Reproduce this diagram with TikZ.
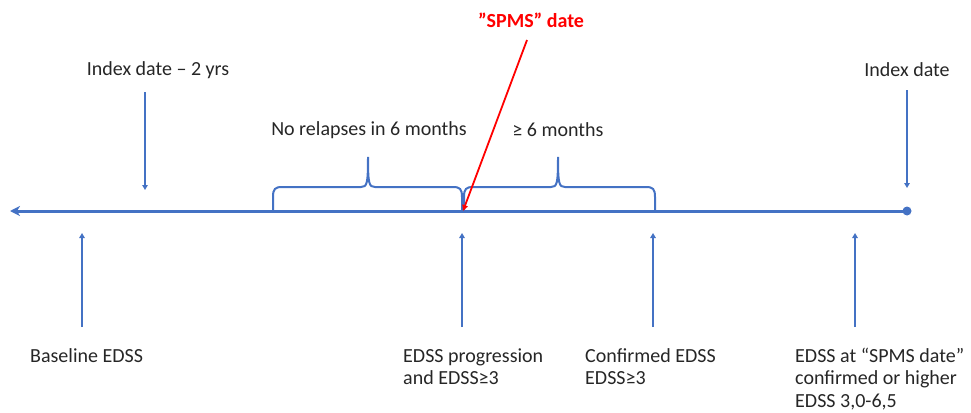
\documentclass[tikz,border=0pt]{standalone}
\usepackage{fontspec}
\setmainfont{Carlito}
\usetikzlibrary{arrows.meta}

\definecolor{lineblue}{HTML}{4472C4}
\definecolor{textgray}{HTML}{262626}

\tikzset{
  timeline/.style={lineblue, line width=3pt},
  marker/.style={lineblue, line width=1.6pt, -{Triangle[length=5pt,width=5.5pt]}},
  note/.style={text=textgray, font=\fontsize{20}{22.5}\selectfont, inner sep=0pt, align=left},
  spms/.style={red, line width=1.8pt, -{Triangle[length=6pt,width=5.5pt]}},
  bracepath/.style={lineblue, line width=2pt},
}

% curly brace on the time line: left x, tip x, right x
\newcommand\timebrace[3]{%
  \draw[bracepath] (#1,211) -- (#1,197) .. controls (#1,189) and (#1+2,187) .. (#1+9,187)
    -- (#2-7,187) .. controls (#2-1,187) and (#2,184) .. (#2,157)
    .. controls (#2,184) and (#2+1,187) .. (#2+7,187)
    -- (#3-9,187) .. controls (#3-2,187) and (#3,189) .. (#3,197) -- (#3,211);
}

\begin{document}
\begin{tikzpicture}[x=1pt, y=-1pt]
  \useasboundingbox (0,0) rectangle (971,412);

  % time line
  \coordinate (west) at (10,211);
  \coordinate (east) at (907,211);
  \coordinate (spmsdate) at (463,211);
  \draw[timeline, {Stealth[length=10pt,width=10pt,inset=3pt]}-] (west) -- (east);
  \fill[lineblue] (east) circle (4.5);

  % braces
  \timebrace{273}{368}{462}
  \timebrace{464}{558}{655}
  \node[note] (norelapse) at (369,130) {No relapses in 6 months};
  \node[note] (sixmonths) at (558,130) {≥ 6 months};

  % dates above the line
  \node[note] (twoyrs) at (158,70) {Index date -- 2 yrs};
  \node[note] (index) at (907,70) {Index date};
  \coordinate (twoyrs top) at (145,92);
  \coordinate (twoyrs tip) at (145,190);
  \coordinate (index top) at (907,90);
  \coordinate (index tip) at (907,188);
  \draw[marker] (twoyrs top) -- (twoyrs tip);
  \draw[marker] (index top) -- (index tip);

  % SPMS date
  \node[red, font=\fontsize{20}{23}\selectfont\bfseries, inner sep=0pt] (spms) at (531,20) {”SPMS” date};
  \coordinate (spms start) at (527,40);
  \draw[spms] (spms start) -- (spmsdate);

  % EDSS assessments below the line (base = last line)
  \node[note, anchor=base west] (baseline) at (30,362) {Baseline EDSS};
  \node[note, anchor=base west] (progression) at (403,384.5) {EDSS progression\\and EDSS≥3};
  \node[note, anchor=base west] (confirmed) at (585,384.5) {Confirmed EDSS\\EDSS≥3};
  \node[note, anchor=base west] (higher) at (795,407) {EDSS at “SPMS date”\\confirmed or higher\\EDSS 3,0-6,5};
  \foreach \name/\x in {base/82, prog/462, conf/653, high/855} {
    \coordinate (\name foot) at (\x,327);
    \coordinate (\name tip) at (\x,233);
    \draw[marker] (\name foot) -- (\name tip);
  }
\end{tikzpicture}
\end{document}
